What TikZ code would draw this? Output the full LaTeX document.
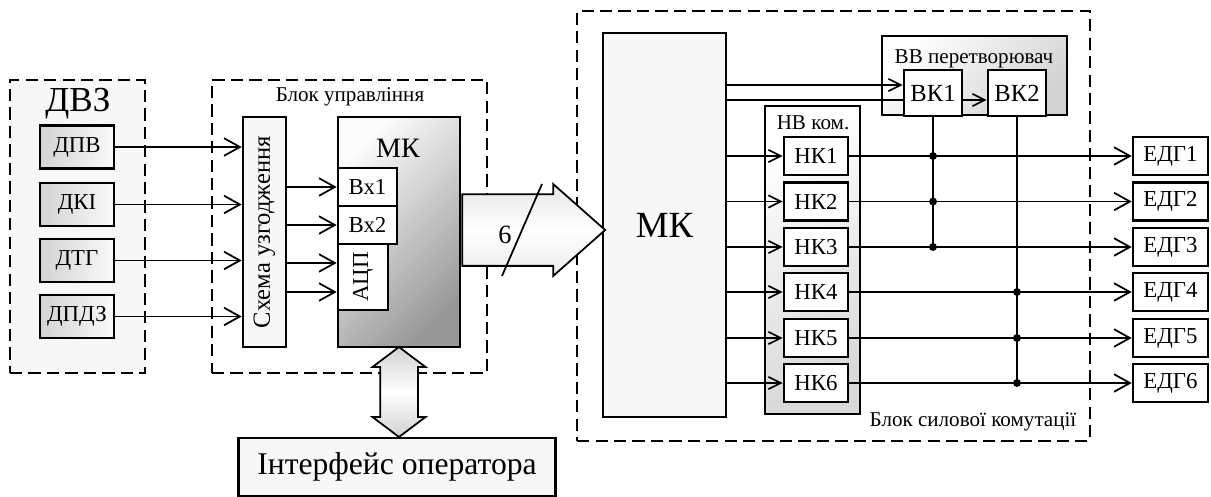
\documentclass[tikz,border=0pt]{standalone}
\usepackage{fontspec}
\setmainfont{Liberation Serif}
\usepackage{tikz}
\usetikzlibrary{arrows.meta}
\usetikzlibrary{shapes.arrows}
\newcommand{\fsz}[1]{\fontsize{#1}{#1}\selectfont}

\begin{document}
\begin{tikzpicture}
		[x=0.02cm, y=-0.02cm,
		blk/.style = {draw, line width=1.5pt, inner sep=0pt, font=\fsz{13}},
		sens/.style = {blk, minimum width=1.48cm, minimum height=0.86cm, left color=gray!35, right color=gray!4},
		wbox/.style = {blk, fill=white},
		dbox/.style = {draw, line width=1.1pt, dash pattern=on 7pt off 3.5pt},
		con/.style = {line width=1pt},
		arr/.style = {con, -{Straight Barb[length=9pt, width=10pt]}},
		sarr/.style = {con, -{Straight Barb[length=7pt, width=7pt]}},
		dot/.style = {circle, fill, inner sep=0pt, minimum size=4.5pt}]
	\useasboundingbox (0,0) rectangle (1211,497);
	% frames
	\node[dbox, fill=gray!6, minimum width=2.7cm, minimum height=5.86cm] (dvz) at (77.5,226.5) {};
	\node[dbox, minimum width=5.5cm, minimum height=5.86cm] (bu) at (349.5,226.5) {};
	\node[dbox, minimum width=10.26cm, minimum height=8.6cm] (bs) at (833.5,226) {};
	\node[font=\fsz{20}] (tdvz) at (78,104) {ДВЗ};
	\node[font=\fsz{12}] (tbu) at (350,97) {Блок управління};
	\node[font=\fsz{12}] (tbs) at (973,422) {Блок силової комутації};
	% sensors
	\node[sens] (dpv) at (77,147) {ДПВ};
	\node[sens] (dki) at (77,204.5) {ДКІ};
	\node[sens] (dtg) at (77,260.5) {ДТГ};
	\node[sens] (dpdz) at (77,316.5) {ДПДЗ};
	% control unit
	\node[blk, fill=gray!6, minimum width=0.86cm, minimum height=4.6cm, font=\fsz{14}] (sch) at (264.5,232) {\rotatebox{90}{Схема узгодження}};
	\node[blk, top color=gray!3, bottom color=gray!80, shading angle=45, minimum width=2.44cm, minimum height=4.6cm] (mkl) at (399,232) {};
	\node[font=\fsz{16}] (tmk) at (398,148) {МК};
	\node[wbox, minimum width=1.18cm, minimum height=0.76cm] (bx1) at (367.5,187) {Вх1};
	\node[wbox, minimum width=1.18cm, minimum height=0.76cm] (bx2) at (367.5,225) {Вх2};
	\node[wbox, minimum width=1.0cm, minimum height=1.32cm] (adc) at (363,277) {\rotatebox{90}{АЦП}};
	\coordinate (adc1) at ([yshift=0.28cm]adc.west);
	\coordinate (adc2) at ([yshift=-0.3cm]adc.west);
	\draw[arr] (dpv) -- (dpv -| sch.west);
	\draw[arr] (dki) -- (dki -| sch.west);
	\draw[arr] (dtg) -- (dtg -| sch.west);
	\draw[arr] (dpdz) -- (dpdz -| sch.west);
	\draw[arr] (bx1 -| sch.east) -- (bx1.west);
	\draw[arr] (bx2 -| sch.east) -- (bx2.west);
	\draw[arr] (adc1 -| sch.east) -- (adc1);
	\draw[arr] (adc2 -| sch.east) -- (adc2);
	% operator
	\node[blk, fill=gray!6, minimum width=6.34cm, minimum height=1.16cm, font=\fsz{18}] (ops) at (397,467) {Інтерфейс оператора};
	\node[double arrow, draw, line width=1pt, rotate=90, inner sep=0pt, text height=0.72cm, text depth=0pt, minimum height=1.8cm,
		double arrow head extend=0.15cm, double arrow tip angle=106,
		top color=gray!35, bottom color=gray!35, middle color=white] (link) at (399,392) {};
	% power unit
	\node[blk, fill=gray!6, minimum width=2.46cm, minimum height=7.68cm, font=\fsz{21}] (mkr) at (664.5,225) {МК};
	\node[single arrow, draw, line width=1pt, inner sep=0pt, text height=1.4cm, text depth=0pt, minimum height=2.86cm,
		single arrow head extend=0.2cm, single arrow tip angle=83, anchor=tail,
		top color=gray!20, bottom color=gray!15, middle color=white] (bus) at (mkl.east |- 0,230) {};
	\draw[con] (542,184) -- (502,276);
	\node[font=\fsz{15}] (six) at (505,235) {6};
	\node[blk, top color=white, bottom color=gray!35, shading angle=45, minimum width=3.7cm, minimum height=1.58cm] (vv) at (974.5,75.5) {};
	\node[font=\fsz{12}] (tvv) at (974,59) {ВВ перетворювач};
	\node[wbox, minimum width=1.16cm, minimum height=0.92cm, font=\fsz{14}] (vk1) at (933,93) {ВК1};
	\node[wbox, minimum width=1.16cm, minimum height=0.92cm, font=\fsz{14}] (vk2) at (1017,93) {ВК2};
	\coordinate (vk1a) at ([yshift=0.16cm]vk1.west);
	\coordinate (vk1b) at ([yshift=-0.14cm]vk1.west);
	\coordinate (vk2b) at ([yshift=-0.14cm]vk2.west);
	\draw[sarr] (vk1a -| mkr.east) -- (vk1a);
	\draw[con] (vk1b -| mkr.east) -- (vk1b);
	\draw[sarr] (vk2b -| vk1.east) -- (vk2b);
	\node[blk, top color=white, bottom color=gray!30, shading angle=30, minimum width=1.9cm, minimum height=6.16cm] (nv) at (812.5,260) {};
	\node[font=\fsz{12}] (tnv) at (813,123) {НВ ком.};
	\node[wbox, minimum width=1.28cm, minimum height=0.76cm] (nk1) at (816,156) {НК1};
	\node[wbox, minimum width=1.28cm, minimum height=0.76cm] (nk2) at (816,201.5) {НК2};
	\node[wbox, minimum width=1.28cm, minimum height=0.76cm] (nk3) at (816,247) {НК3};
	\node[wbox, minimum width=1.28cm, minimum height=0.76cm] (nk4) at (816,292) {НК4};
	\node[wbox, minimum width=1.28cm, minimum height=0.76cm] (nk5) at (816,338) {НК5};
	\node[wbox, minimum width=1.28cm, minimum height=0.76cm] (nk6) at (816,383) {НК6};
	\node[wbox, minimum width=1.5cm, minimum height=0.76cm] (edg1) at (1170.5,156) {ЕДГ1};
	\node[wbox, minimum width=1.5cm, minimum height=0.76cm] (edg2) at (1170.5,201.5) {ЕДГ2};
	\node[wbox, minimum width=1.5cm, minimum height=0.76cm] (edg3) at (1170.5,247) {ЕДГ3};
	\node[wbox, minimum width=1.5cm, minimum height=0.76cm] (edg4) at (1170.5,292) {ЕДГ4};
	\node[wbox, minimum width=1.5cm, minimum height=0.76cm] (edg5) at (1170.5,338) {ЕДГ5};
	\node[wbox, minimum width=1.5cm, minimum height=0.76cm] (edg6) at (1170.5,383) {ЕДГ6};
	\draw[sarr] (nk1 -| mkr.east) -- (nk1.west);
	\draw[sarr] (nk2 -| mkr.east) -- (nk2.west);
	\draw[sarr] (nk3 -| mkr.east) -- (nk3.west);
	\draw[sarr] (nk4 -| mkr.east) -- (nk4.west);
	\draw[sarr] (nk5 -| mkr.east) -- (nk5.west);
	\draw[sarr] (nk6 -| mkr.east) -- (nk6.west);
	\draw[arr] (nk1) -- (edg1);
	\draw[arr] (nk2) -- (edg2);
	\draw[arr] (nk3) -- (edg3);
	\draw[arr] (nk4) -- (edg4);
	\draw[arr] (nk5) -- (edg5);
	\draw[arr] (nk6) -- (edg6);
	\draw[con] (vk1) -- (vk1 |- nk3);
	\draw[con] (vk2) -- (vk2 |- nk6);
	\node[dot] (j1) at (vk1 |- nk1) {};
	\node[dot] (j2) at (vk1 |- nk2) {};
	\node[dot] (j3) at (vk1 |- nk3) {};
	\node[dot] (j4) at (vk2 |- nk4) {};
	\node[dot] (j5) at (vk2 |- nk5) {};
	\node[dot] (j6) at (vk2 |- nk6) {};
\end{tikzpicture}
\end{document}
